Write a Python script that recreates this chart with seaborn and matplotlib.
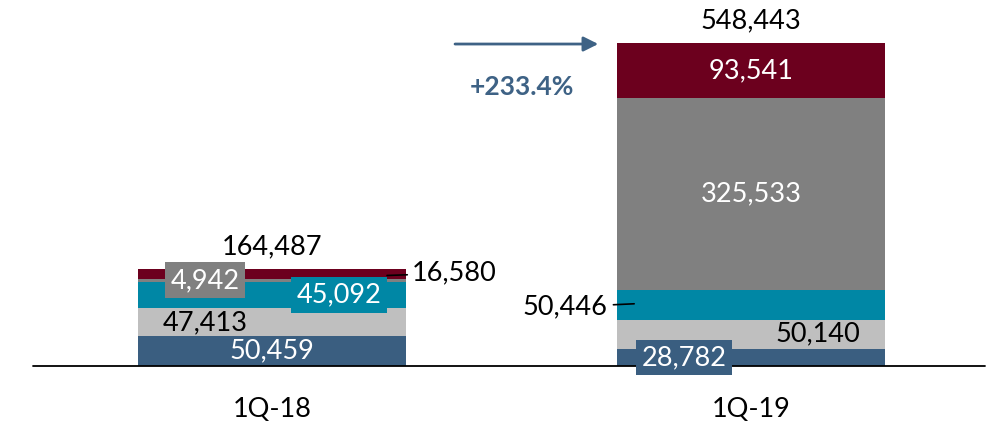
import numpy as np
import pandas as pd
import seaborn as sns
import matplotlib.pyplot as plt

# data
quarters = ["1Q-18", "1Q-19"]
seg_names = ["blue", "lightgray", "teal", "gray", "red"]   # bottom -> top
blue = [50459, 28782]
lightgray = [47413, 50140]
teal = [45092, 50446]
gray = [4942, 325533]
red = [16580, 93541]
totals = [164487, 548443]
growth = "+233.4%"

colors = {"blue": "#3A5E80", "lightgray": "#BFBFBF", "teal": "#0087A5",
          "gray": "#808080", "red": "#6C001E"}
arrow_col = "#3E6285"

sns.set_theme(style="white")
plt.rcParams['font.family'] = ['Lato', 'DejaVu Sans']

segs = np.array([blue, lightgray, teal, gray, red])
cum = segs.cumsum(axis=0)
bottoms = cum - segs
mids = bottoms + segs / 2

fig = plt.figure(figsize=(9.91, 4.25), dpi=100)
ax = fig.add_axes([0, 0, 1, 1])

# stacked bars: draw cumulative heights from the top layer downwards
for i in reversed(range(len(seg_names))):
    df = pd.DataFrame({"quarter": quarters, "value": cum[i]})
    sns.barplot(data=df, x="quarter", y="value", order=quarters, color=colors[seg_names[i]],
                saturation=1, width=0.56, errorbar=None, linewidth=0, ax=ax)

ax.set_xlim(-0.568, 1.501)
ax.set_ylim(-100180, 621456)
ax.axis("off")
ax.axhline(0, xmin=0.033, xmax=0.994, color="black", lw=1.3)

fs = 19.5
off = 0.14

# totals on top
for i, t in enumerate(totals):
    ax.annotate(f"{t:,}", (i, t), xytext=(0, 16), textcoords="offset points",
                ha="center", va="center", fontsize=fs, color="black")

# category labels
for i, q in enumerate(quarters):
    ax.text(i, -74700, q, ha="center", va="center", fontsize=fs, color="black")

def lab(x, y, v, col, box=None):
    kw = {}
    if box:
        kw["bbox"] = dict(boxstyle="square,pad=0.2", fc=box, ec="none")
    ax.text(x, y, f"{v:,}", ha="center", va="center", fontsize=fs, color=col, **kw)

# 1Q-18
lab(0, mids[0, 0], blue[0], "white")
lab(-off, mids[1, 0], lightgray[0], "black")
lab(off, mids[2, 0], teal[0], "white", box=colors["teal"])
lab(-off, mids[3, 0], gray[0], "white", box=colors["gray"])
ax.annotate(f"{red[0]:,}", xy=(0.24, mids[4, 0] - 2500), xytext=(0.292, mids[4, 0] + 1500),
            ha="left", va="center", fontsize=fs, color="black",
            arrowprops=dict(arrowstyle="-", color="black", lw=1.2, shrinkA=1, shrinkB=0))

# 1Q-19
lab(1 - off, mids[0, 1], blue[1], "white", box=colors["blue"])
lab(1 + off, mids[1, 1], lightgray[1], "black")
ax.annotate(f"{teal[1]:,}", xy=(1 - 0.244, mids[2, 1] + 1500), xytext=(1 - 0.30, mids[2, 1] - 4000),
            ha="right", va="center", fontsize=fs, color="black",
            arrowprops=dict(arrowstyle="-", color="black", lw=1.2, shrinkA=2, shrinkB=0))
lab(1, mids[3, 1], gray[1], "white")
lab(1, mids[4, 1], red[1], "white")

# growth arrow
ax.annotate("", xy=(0.681, 546700), xytext=(0.382, 546700),
            arrowprops=dict(arrowstyle="-|>", color=arrow_col, lw=2, mutation_scale=22,
                            shrinkA=0, shrinkB=0))
ax.text(0.522, 473700, growth, ha="center", va="center", fontsize=19,
        fontweight="bold", color=arrow_col)

fig.savefig("out.png", dpi=100)
